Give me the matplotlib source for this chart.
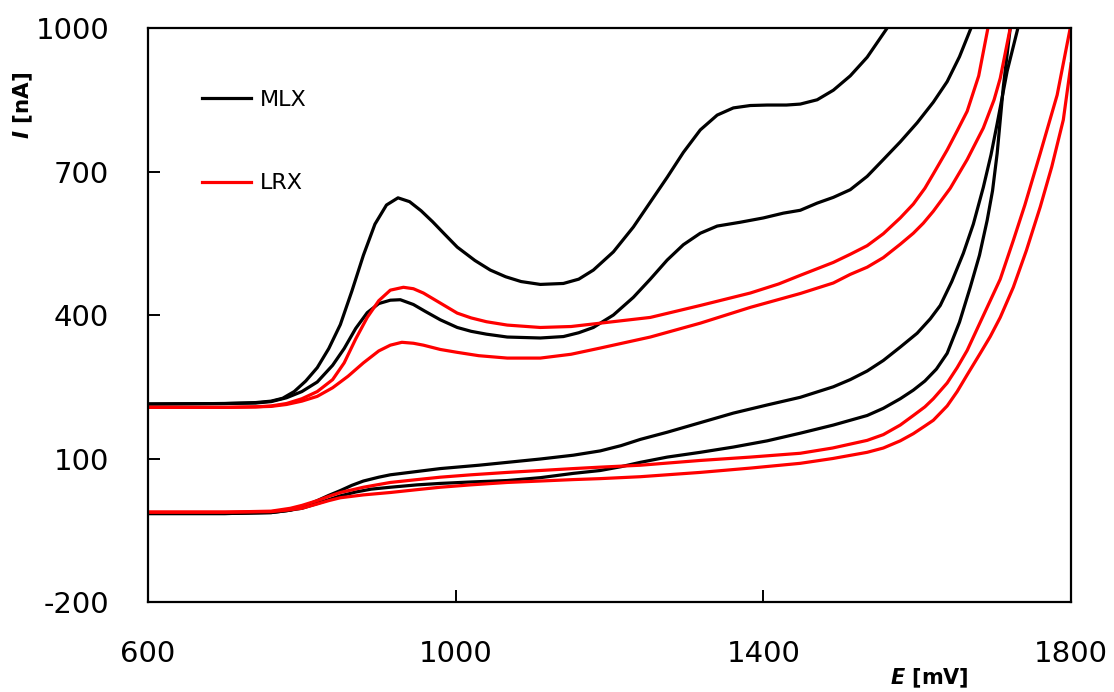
import matplotlib
matplotlib.use('Agg')
import matplotlib.pyplot as plt

# MLX, upper pair (large peak)
mlx_a_x = [600, 700, 740, 760, 775, 790, 805, 820, 835, 850, 865, 880, 895, 910, 925, 940, 955, 970, 985,
           1002, 1025, 1045, 1065, 1085, 1110, 1140, 1160, 1179, 1205, 1231, 1253, 1275, 1296, 1318, 1340,
           1361, 1383, 1405, 1430, 1448, 1470, 1491, 1513, 1535, 1561]
mlx_a_y = [214, 215, 217, 220, 226, 240, 262, 290, 330, 380, 450, 525, 590, 630, 645, 637, 618, 595, 570,
           542, 514, 494, 480, 470, 464, 466, 475, 494, 532, 584, 636, 688, 740, 787, 818,
           833, 838, 839, 839, 841, 850, 870, 900, 939, 1000]

# MLX, upper pair (small peak)
mlx_b_x = [600, 700, 740, 760, 780, 800, 820, 840, 855, 870, 885, 900, 915, 928, 945, 960, 980, 1002, 1020,
           1040, 1067, 1110, 1140, 1160, 1179, 1205, 1231, 1253, 1275, 1296, 1318, 1340, 1370, 1400, 1426,
           1448, 1470, 1491, 1513, 1535, 1556, 1578, 1600, 1621, 1639, 1655, 1670]
mlx_b_y = [214, 215, 216, 219, 227, 240, 260, 295, 330, 372, 405, 424, 431, 432, 422, 408, 390, 374, 366,
           360, 354, 352, 355, 363, 374, 400, 437, 475, 515, 547, 571, 586, 594, 603, 613,
           619, 634, 646, 662, 690, 725, 762, 802, 845, 888, 940, 1000]

# LRX, upper pair (higher peak)
lrx_a_x = [600, 700, 740, 760, 780, 800, 820, 840, 855, 870, 885, 900, 915, 932, 945, 958, 980, 1002, 1020,
           1040, 1067, 1110, 1150, 1188, 1253, 1318, 1383, 1420, 1448, 1491, 1513, 1535, 1556, 1578, 1595,
           1610, 1621, 1639, 1652, 1665, 1680, 1692]
lrx_a_y = [207, 207, 208, 210, 215, 225, 240, 265, 300, 350, 395, 430, 452, 458, 455, 446, 425, 404, 394,
           386, 379, 374, 376, 383, 395, 420, 446, 465, 483, 510, 527, 545, 570, 603, 632,
           665, 695, 745, 785, 826, 900, 1000]

# LRX, upper pair (lower peak)
lrx_b_x = [600, 700, 740, 760, 780, 800, 820, 840, 860, 880, 900, 915, 930, 945, 958, 980, 1002, 1030, 1067,
           1110, 1150, 1188, 1253, 1318, 1383, 1448, 1491, 1513, 1535, 1556, 1578, 1595, 1608, 1621, 1643,
           1665, 1686, 1700, 1708, 1721]
lrx_b_y = [207, 207, 208, 209, 213, 220, 230, 248, 272, 300, 325, 337, 343, 341, 337, 328, 322, 315, 310,
           310, 318, 331, 354, 383, 416, 445, 467, 485, 500, 520, 548, 571, 592, 617, 665,
           725, 791, 850, 895, 1000]

# MLX, lower pair
mlx_c_x = [600, 700, 760, 785, 805, 820, 835, 850, 865, 880, 900, 915, 950, 980, 1030, 1067, 1110, 1153,
           1188, 1215, 1240, 1275, 1318, 1361, 1405, 1448, 1491, 1513, 1535, 1556, 1578, 1600, 1617, 1630,
           1645, 1660, 1673, 1686, 1696, 1704, 1717, 1731]
mlx_c_y = [-15, -15, -13, -8, 2, 12, 23, 33, 44, 53, 61, 66, 73, 79, 86, 92, 99, 107,
           116, 127, 140, 155, 175, 195, 212, 228, 250, 265, 283, 305, 333, 362, 392, 420,
           470, 529, 590, 667, 735, 800, 910, 1000]

mlx_d_x = [600, 700, 760, 780, 800, 820, 835, 850, 870, 890, 915, 950, 980, 1020, 1067, 1110, 1153, 1188,
           1215, 1240, 1275, 1318, 1361, 1405, 1448, 1491, 1535, 1556, 1578, 1595, 1610, 1625, 1639, 1655,
           1669, 1681, 1691, 1698, 1704, 1712, 1721]
mlx_d_y = [-15, -15, -13, -9, -4, 6, 14, 22, 30, 36, 40, 45, 48, 51, 54, 60, 69, 75,
           83, 92, 103, 113, 124, 137, 153, 170, 190, 205, 225, 243, 262, 287, 320, 385,
           458, 525, 598, 660, 738, 877, 1000]

# LRX, lower pair
lrx_c_x = [600, 700, 760, 785, 800, 820, 835, 850, 880, 915, 950, 980, 1020, 1067, 1110, 1153, 1188, 1240,
           1318, 1383, 1448, 1490, 1535, 1556, 1578, 1595, 1610, 1621, 1639, 1652, 1665, 1682, 1695, 1708,
           1725, 1740, 1760, 1782, 1799]
lrx_c_y = [-12, -12, -10, -4, 2, 12, 21, 29, 40, 50, 56, 61, 66, 71, 75, 79, 82, 86,
           96, 103, 111, 122, 138, 150, 170, 190, 208, 225, 258, 290, 326, 385, 430, 475,
           556, 630, 738, 860, 1000]

lrx_d_x = [600, 700, 760, 780, 800, 820, 835, 850, 880, 915, 950, 980, 1020, 1067, 1110, 1153, 1188, 1240,
           1318, 1383, 1448, 1490, 1535, 1556, 1578, 1595, 1610, 1621, 1639, 1652, 1665, 1682, 1695, 1708,
           1725, 1742, 1760, 1775, 1790, 1800]
lrx_d_y = [-12, -12, -11, -8, -4, 5, 12, 18, 24, 29, 35, 40, 45, 50, 53, 56, 58, 62,
           71, 80, 90, 100, 113, 122, 137, 152, 168, 180, 210, 240, 275, 320, 355, 395,
           458, 535, 626, 710, 808, 925]

x_ticks = [600, 1000, 1400, 1800]
y_ticks = [-200, 100, 400, 700, 1000]

plt.rc('font', family='DejaVu Sans')
plt.rc('axes', unicode_minus=False)

fig = plt.figure(figsize=(11.14, 6.92), dpi=100)
ax = fig.add_axes([0.1329, 0.130, 0.8285, 0.8295])

curves = [
  (mlx_a_x, mlx_a_y, 'black', 'MLX'),
  (mlx_b_x, mlx_b_y, 'black', None),
  (mlx_c_x, mlx_c_y, 'black', None),
  (mlx_d_x, mlx_d_y, 'black', None),
  (lrx_a_x, lrx_a_y, '#ff0000', 'LRX'),
  (lrx_b_x, lrx_b_y, '#ff0000', None),
  (lrx_c_x, lrx_c_y, '#ff0000', None),
  (lrx_d_x, lrx_d_y, '#ff0000', None),
]
for xs, ys, c, lab in curves:
  ax.plot(xs, ys, color=c, lw=2.3, label=lab, solid_joinstyle='round')

ax.set_xlim(600, 1800)
ax.set_ylim(-200, 1000)
ax.set_xticks(x_ticks)
ax.set_yticks(y_ticks)
ax.tick_params(axis='both', direction='in', length=8.5, width=1.4, labelsize=21)
ax.tick_params(axis='x', pad=27)
ax.tick_params(axis='y', pad=28)
for s in ax.spines.values():
  s.set_linewidth(1.6)

ax.set_xlabel(r'$\mathbfit{E}$ [mV]', fontsize=15, fontweight='bold')
ax.xaxis.set_label_coords(0.846, -0.113)
ax.set_ylabel(r'$\mathbfit{I}$ [nA]', fontsize=15.5, fontweight='bold')
ax.yaxis.set_label_coords(-0.122, 0.866)

ax.legend(loc='upper left', bbox_to_anchor=(0.0585, 0.892), frameon=False, fontsize=16,
          handlelength=2.2, handletextpad=0.4, labelspacing=2.85, borderpad=0, borderaxespad=0)

fig.savefig('out.png', dpi=100)
